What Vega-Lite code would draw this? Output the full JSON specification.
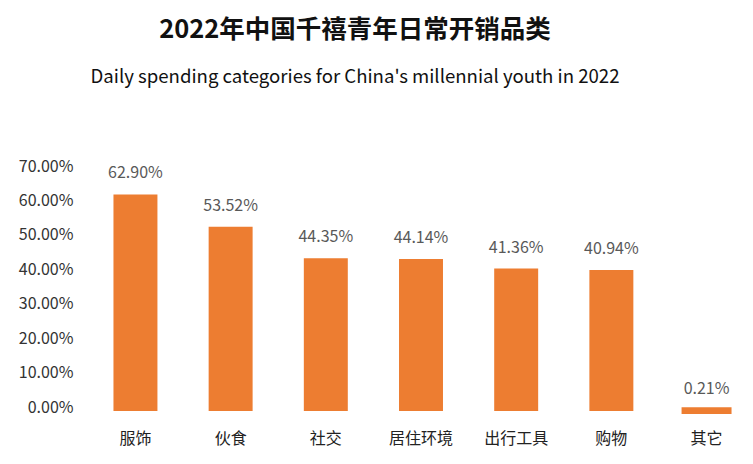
{
  "$schema": "https://vega.github.io/schema/vega-lite/v6.json",
  "autosize": {"type": "none"},
  "width": 664,
  "height": 241,
  "padding": {"left": 89, "top": 170, "right": 0, "bottom": 53},
  "background": "white",
  "title": {
    "text": "2022年中国千禧青年日常开销品类",
    "subtitle": "Daily spending categories for China's millennial youth in 2022",
    "anchor": "middle",
    "dx": -66,
    "offset": 71,
    "font": "Noto Sans CJK SC",
    "fontSize": 25.5,
    "fontWeight": "bold",
    "color": "#111111",
    "subtitleFont": "Noto Sans CJK SC",
    "subtitleFontSize": 18.6,
    "subtitleColor": "#111111",
    "subtitlePadding": 25
  },
  "config": {
    "view": {"stroke": null},
    "font": "Noto Sans CJK SC"
  },
  "data": {
    "values": [
      {"category": "服饰", "value": 0.629},
      {"category": "伙食", "value": 0.5352},
      {"category": "社交", "value": 0.4435},
      {"category": "居住环境", "value": 0.4414},
      {"category": "出行工具", "value": 0.4136},
      {"category": "购物", "value": 0.4094},
      {"category": "其它", "value": 0.0021}
    ]
  },
  "encoding": {
    "x": {
      "field": "category",
      "type": "nominal",
      "sort": null,
      "scale": {"paddingInner": 0.538, "paddingOuter": 0.257},
      "axis": {
        "title": null,
        "domain": false,
        "ticks": false,
        "labelAngle": 0,
        "labelFontSize": 16,
        "labelColor": "#222222",
        "labelPadding": 19,
        "labelFont": "Noto Sans CJK SC"
      }
    },
    "y": {
      "field": "value",
      "type": "quantitative",
      "scale": {"domain": [0, 0.7], "nice": false},
      "axis": {
        "title": null,
        "domain": false,
        "ticks": false,
        "grid": false,
        "values": [0, 0.1, 0.2, 0.3, 0.4, 0.5, 0.6, 0.7],
        "format": ".2%",
        "labelFontSize": 16,
        "labelColor": "#333333",
        "labelPadding": 16,
        "labelOffset": -4,
        "labelFont": "Noto Sans CJK SC"
      }
    }
  },
  "layer": [
    {
      "mark": {"type": "bar", "color": "#ED7D31", "stroke": "#ED7D31"},
      "encoding": {
        "strokeWidth": {
          "condition": {"test": "datum.value < 0.01", "value": 6},
          "value": 0
        }
      }
    },
    {
      "mark": {
        "type": "text",
        "baseline": "bottom",
        "dy": -13,
        "fontSize": 16,
        "color": "#595959",
        "font": "Noto Sans CJK SC"
      },
      "encoding": {
        "text": {"field": "value", "type": "quantitative", "format": ".2%"}
      }
    }
  ]
}
